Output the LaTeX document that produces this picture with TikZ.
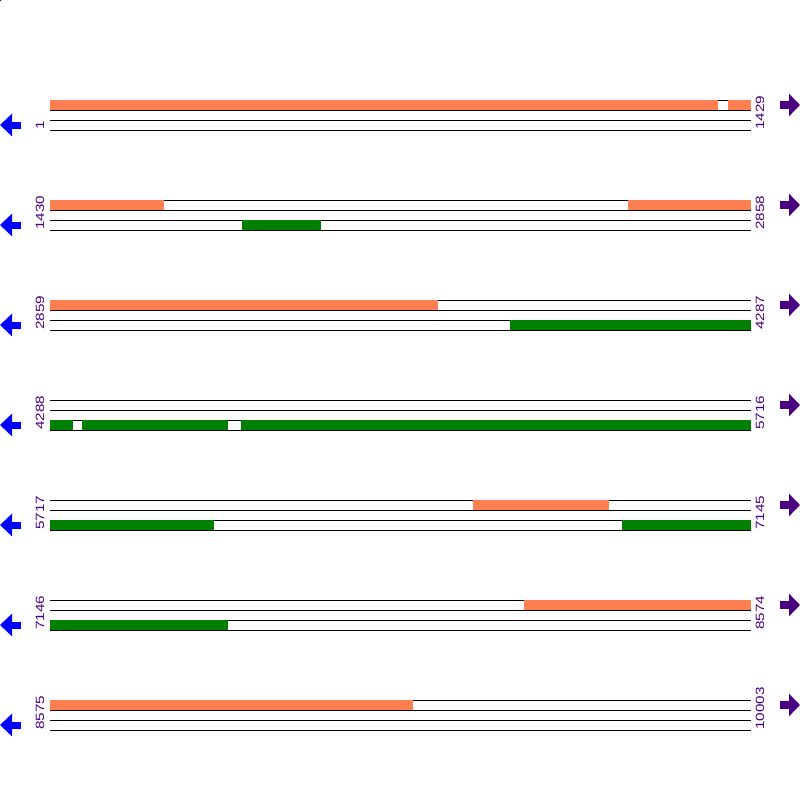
\documentclass[tikz,border=0pt]{standalone}
\usepackage{graphicx}
\usepackage{fontspec}
\setmainfont{Liberation Sans}
\usetikzlibrary{arrows.meta}
\definecolor{coral}{HTML}{FF7F50}
\definecolor{fwdgreen}{HTML}{008000}
\definecolor{indigo}{HTML}{4B0082}
\tikzset{
  track/.style={draw=black,line width=1pt},
  poslabel/.style={rotate=90,anchor=base west,inner sep=0pt,text=indigo,
    font=\fontsize{12}{12}\selectfont},
  backarrow/.style={draw=blue,line width=7pt,-{Triangle[length=12pt,width=22pt]}},
  fwdarrow/.style={draw=indigo,line width=8pt,-{Triangle[length=11pt,width=22pt]}}
}
\newcommand\widenum[1]{\scalebox{1.27}[1]{#1}}
% #1 top of the row (px), #2 first position, #3 last position
\newcommand\seqrow[3]{
  \foreach \dy in {0,10,20,30}
    \draw[track] (50,-#1-\dy) -- (751,-#1-\dy);
  \node[poslabel] (first#1) at (44,-#1-30) {\widenum{#2}};
  \node[poslabel] (last#1) at (764,-#1-30) {\widenum{#3}};
  \coordinate (bk#1) at (21,-#1-25);
  \coordinate (bktip#1) at (0,-#1-25);
  \coordinate (fw#1) at (780,-#1-5);
  \coordinate (fwtip#1) at (800,-#1-5);
  \draw[backarrow] (bk#1) -- (bktip#1);
  \draw[fwdarrow] (fw#1) -- (fwtip#1);
}
% #1 top (px), #2 from x, #3 to x, #4 colour
\newcommand\seqbar[4]{
  \fill[#4] (#2,-#1) rectangle (#3,-#1-10);
}
\begin{document}
\begin{tikzpicture}[x=1pt,y=1pt]
  \useasboundingbox (0,0) rectangle (800,-800);
  \fill[black] (0,0) circle (1.5);

  \foreach \top/\first/\last in {100/1/1429,200/1430/2858,300/2859/4287,
      400/4288/5716,500/5717/7145,600/7146/8574,700/8575/10003}
    \seqrow{\top}{\first}{\last};

  % upper strand
  \seqbar{100}{50}{718}{coral}
  \seqbar{100}{728}{751}{coral}
  \seqbar{200}{50}{164}{coral}
  \seqbar{200}{628}{751}{coral}
  \seqbar{300}{50}{438}{coral}
  \seqbar{500}{473}{609}{coral}
  \seqbar{600}{524}{751}{coral}
  \seqbar{700}{50}{413}{coral}

  % lower strand
  \seqbar{220}{242}{321}{fwdgreen}
  \seqbar{320}{510}{751}{fwdgreen}
  \seqbar{420}{50}{73}{fwdgreen}
  \seqbar{420}{82}{228}{fwdgreen}
  \seqbar{420}{241}{751}{fwdgreen}
  \seqbar{520}{50}{214}{fwdgreen}
  \seqbar{520}{622}{751}{fwdgreen}
  \seqbar{620}{50}{228}{fwdgreen}

\end{tikzpicture}
\end{document}
